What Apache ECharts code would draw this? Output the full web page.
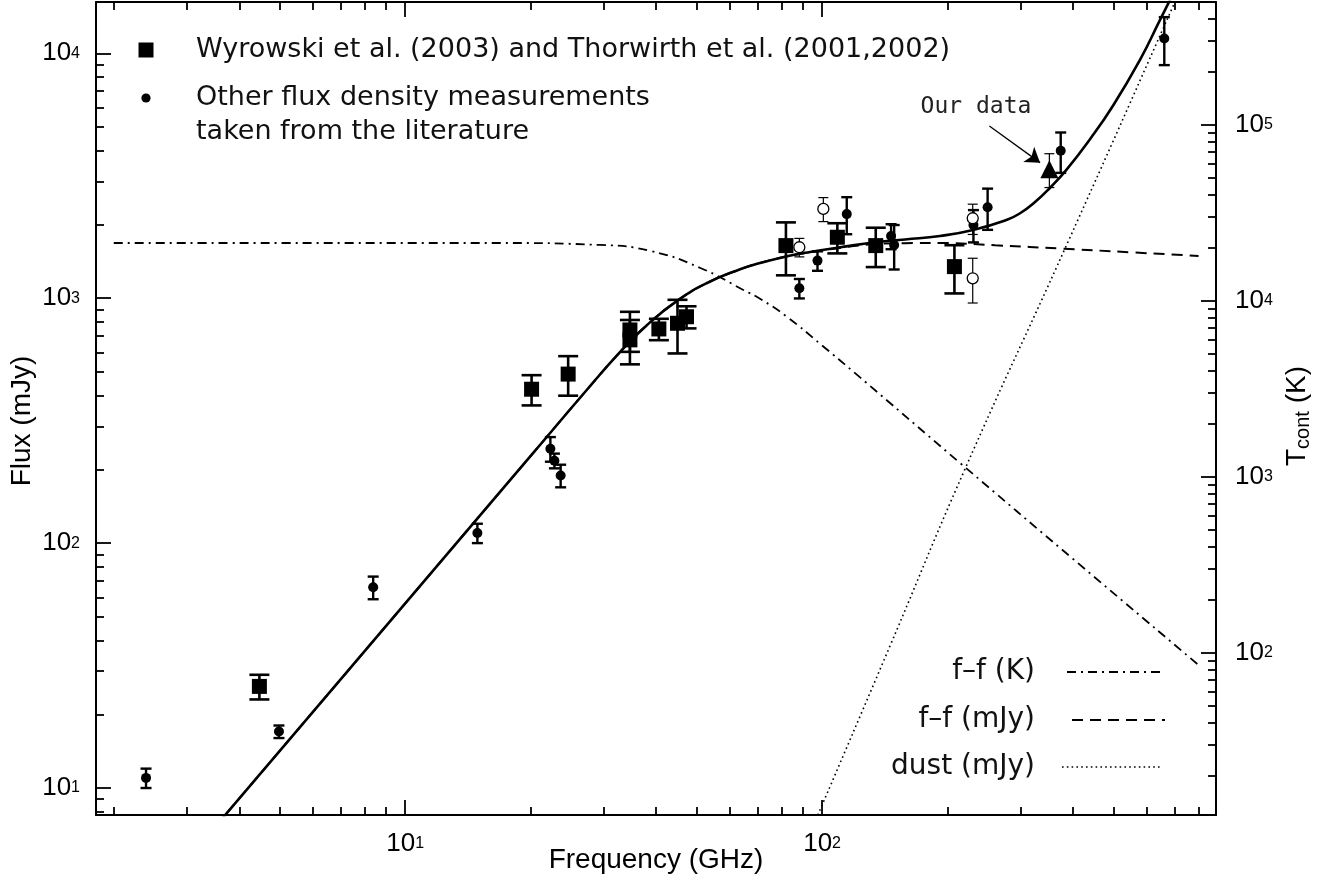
<!DOCTYPE html>
<html>
<head>
<meta charset="utf-8">
<title>Continuum spectrum</title>
<script src="https://cdn.jsdelivr.net/npm/echarts@6/dist/echarts.min.js"></script>
<style>
  html, body { margin: 0; padding: 0; background: #fff; }
  #chart { width: 1344px; height: 881px; }
</style>
</head>
<body>
<div id="chart"></div>
<script>
// Frequencies in GHz, flux densities in mJy, brightness temperatures in K.
// Axis ranges (log axes drawn as linear axes over log10 values)
const freqRange = [1.813, 880.8];
const fluxRange = [7.76, 16200];
const tempRange = [11.96, 497700];

// Decade tick labels (exponents of ten)
const freqDecades = [1, 2];
const fluxDecades = [1, 2, 3, 4];
const tempDecades = [2, 3, 4, 5];

// Wyrowski et al. (2003) and Thorwirth et al. (2001, 2002)
const wyrFreq = [4.47, 20.1, 24.6, 34.6, 34.6, 40.6, 45.0, 47.3, 81.9, 108.8, 134.5, 207.7];
const wyrFlux = [26, 425, 490, 742, 676, 749, 790, 840, 1640, 1774, 1640, 1346];
const wyrErr  = [3, 60, 90, 138, 139, 75, 195, 87, 400, 250, 300, 300];

// Other flux density measurements from the literature (filled circles)
const litFreq = [2.39, 4.98, 8.38, 14.9, 22.3, 22.8, 23.6, 88.2, 97.5, 114.6, 146.4, 148.9, 230.7, 249.5, 373.6, 662];
const litFlux = [11, 17, 66, 110, 243, 217, 189, 1098, 1424, 2205, 1795, 1650, 1990, 2352, 4000, 11500];
const litErr  = [1, 1, 7, 10, 28, 15, 20, 100, 130, 380, 210, 340, 300, 450, 750, 2550];

// Open circles
const openFreq = [88.2, 100.7, 229.8, 229.8];
const openFlux = [1615, 2315, 1206, 2121];
const openErr  = [140, 260, 250, 300];

// Our data
const ourFreq = [350.9];
const ourFlux = [3361];
const ourErr  = [530];

// Total model (free-free + dust), mJy
const modelFreq = [3.5, 8.37, 12.1, 20, 27, 32.79, 38.05, 45.23, 52.99, 63.6, 71.0, 81.8, 93.6, 110.5, 134.5, 158.1, 191.9, 230.2, 277.7, 298.5, 324.2, 352.2, 386.8, 439.2, 498.6, 578.8, 646.6, 722.1];
const modelFlux = [6.94, 39.7, 83.1, 227, 414, 604, 778, 984, 1154, 1313, 1393, 1479, 1545, 1614, 1693, 1738, 1796, 1900, 2091, 2223, 2470, 2825, 3368, 4461, 6107, 9400, 13690, 19940];

// Free-free component, mJy
const ffFreq = [3.5, 8.37, 12.1, 20, 27, 32.79, 38.05, 45.23, 52.99, 63.6, 71.0, 81.8, 93.6, 110.5, 134.5, 158.1, 191.9, 260, 380, 550, 800];
const ffFlux = [6.94, 39.7, 83.1, 227, 414, 604, 778, 984, 1154, 1313, 1393, 1479, 1540, 1605, 1664, 1678, 1680, 1645, 1592, 1540, 1488];

// Free-free component as brightness temperature, K
const ffKFreq = [2, 16.9, 29.35, 38.74, 51.07, 64.76, 71.13, 82.3, 100, 120, 214.3, 400, 800];
const ffKTemp = [21270, 21270, 20730, 19160, 15340, 11500, 10220, 8111, 5566, 3873, 1196, 340.7, 85.1];

// Dust component, mJy
const dustFreq = [97.7, 145.5, 220, 386, 702, 760];
const dustFlux = [7.76, 38, 200, 1650, 16200, 22080];

// Arrow pointing at our data point: [GHz, mJy]
const arrowFrom = [251.9, 5047];
const arrowTo = [333.3, 3578];

const lg = Math.log10;
const black = '#000';
const sansFont = '"Liberation Sans", Arial, Helvetica, sans-serif';
const wideFont = '"DejaVu Sans", Verdana, sans-serif';

const xExt = [lg(freqRange[0]), lg(freqRange[1])];
const fluxExt = [lg(fluxRange[0]), lg(fluxRange[1])];
const tempExt = [lg(tempRange[0]), lg(tempRange[1])];

function pairs(xs, ys) {
  return xs.map((x, i) => [lg(x), lg(ys[i])]);
}

// tick positions at 2..9 x 10^n inside an extent given in log10 units
function minorLogs(ext) {
  const out = [];
  for (let d = Math.floor(ext[0]); d <= Math.ceil(ext[1]); d++) {
    for (let m = 2; m <= 9; m++) {
      const v = d + Math.log10(m);
      if (v >= ext[0] && v <= ext[1]) out.push(v);
    }
  }
  return out;
}

const powerRich = {
  b: { fontSize: 26, fontFamily: sansFont, color: black, lineHeight: 26, padding: [6, 0, 5, 0], verticalAlign: 'bottom' },
  s: { fontSize: 16, fontFamily: sansFont, color: black, lineHeight: 16, verticalAlign: 'top' }
};

function powerLabel(decades, margin, padding) {
  return {
    show: true,
    customValues: decades,
    margin: margin,
    padding: padding,
    fontSize: 26,
    fontFamily: sansFont,
    color: black,
    formatter: v => '{b|10}{s|' + Math.round(v) + '}',
    rich: powerRich
  };
}

function frameAxis(position, ext, ticks, len, showLine, label) {
  return {
    type: 'value',
    position: position,
    min: ext[0],
    max: ext[1],
    axisLine: { show: showLine, onZero: false, lineStyle: { color: black, width: 2 } },
    axisTick: { show: true, inside: true, length: len, customValues: ticks, lineStyle: { color: black, width: 1.8 } },
    axisLabel: label || { show: false },
    splitLine: { show: false },
    minorTick: { show: false },
    minorSplitLine: { show: false },
    axisPointer: { show: false }
  };
}

function errorBars(freq, flux, err, capWidth, lineWidth) {
  return {
    type: 'custom',
    xAxisIndex: 0,
    yAxisIndex: 0,
    clip: true,
    silent: true,
    z: 3,
    data: freq.map((f, i) => [lg(f), lg(flux[i] + err[i]), lg(flux[i] - err[i])]),
    encode: { x: 0, y: [1, 2] },
    renderItem: (params, api) => {
      const hi = api.coord([api.value(0), api.value(1)]);
      const lo = api.coord([api.value(0), api.value(2)]);
      const h = capWidth / 2;
      const style = { stroke: black, lineWidth: lineWidth, fill: null };
      return {
        type: 'group',
        children: [
          { type: 'line', shape: { x1: hi[0], y1: hi[1], x2: lo[0], y2: lo[1] }, style: style },
          { type: 'line', shape: { x1: hi[0] - h, y1: hi[1], x2: hi[0] + h, y2: hi[1] }, style: style },
          { type: 'line', shape: { x1: lo[0] - h, y1: lo[1], x2: lo[0] + h, y2: lo[1] }, style: style }
        ]
      };
    }
  };
}

function curve(freq, vals, yIndex, width, dash, z) {
  return {
    type: 'line',
    xAxisIndex: 0,
    yAxisIndex: yIndex,
    data: pairs(freq, vals),
    symbol: 'none',
    showSymbol: false,
    smooth: 0.5,
    clip: true,
    silent: true,
    z: z,
    lineStyle: { color: black, width: width, type: dash }
  };
}

function markers(freq, flux, symbol, size, itemStyle) {
  return {
    type: 'scatter', xAxisIndex: 0, yAxisIndex: 0, z: 4, silent: true,
    data: pairs(freq, flux), symbol: symbol, symbolSize: size,
    itemStyle: Object.assign({ opacity: 1 }, itemStyle)
  };
}

const chart = echarts.init(document.getElementById('chart'), null, { renderer: 'canvas' });

const ourSeries = markers(ourFreq, ourFlux, 'triangle', 18, { color: black });
ourSeries.markLine = {
  silent: true,
  symbol: ['none', 'arrow'],
  symbolSize: 14,
  label: { show: false },
  lineStyle: { color: black, width: 1.3, type: 'solid' },
  data: [[
    { coord: [lg(arrowFrom[0]), lg(arrowFrom[1])] },
    { coord: [lg(arrowTo[0]), lg(arrowTo[1])] }
  ]]
};

const option = {
  animation: false,
  backgroundColor: '#fff',
  grid: { left: 96, right: 128, top: 2, bottom: 66, containLabel: false, outerBoundsMode: 'none' },
  xAxis: [
    frameAxis('bottom', xExt, freqDecades, 15, true, powerLabel(freqDecades, 21, 0)),
    frameAxis('top', xExt, freqDecades, 15, true),
    frameAxis('bottom', xExt, minorLogs(xExt), 8, false),
    frameAxis('top', xExt, minorLogs(xExt), 8, false)
  ],
  yAxis: [
    frameAxis('left', fluxExt, fluxDecades, 15, true, powerLabel(fluxDecades, 16, [10, 0, 0, 0])),
    frameAxis('right', tempExt, tempDecades, 15, true, powerLabel(tempDecades, 19, [10, 0, 0, 0])),
    frameAxis('left', fluxExt, minorLogs(fluxExt), 8, false),
    frameAxis('right', tempExt, minorLogs(tempExt), 8, false)
  ],
  series: [
    curve(ffFreq, ffFlux, 0, 2, [11, 7], 1),
    curve(dustFreq, dustFlux, 0, 1.6, [1.6, 3.2], 1),
    curve(ffKFreq, ffKTemp, 1, 1.8, [9, 5, 2, 5], 1),
    curve(modelFreq, modelFlux, 0, 2.6, 'solid', 2),
    errorBars(wyrFreq, wyrFlux, wyrErr, 20, 2.6),
    errorBars(litFreq, litFlux, litErr, 11, 2.4),
    errorBars(openFreq, openFlux, openErr, 10, 1.2),
    errorBars(ourFreq, ourFlux, ourErr, 10, 1.2),
    markers(wyrFreq, wyrFlux, 'rect', 15, { color: black }),
    markers(litFreq, litFlux, 'circle', 10, { color: black }),
    markers(openFreq, openFlux, 'circle', 11, { color: '#fff', borderColor: black, borderWidth: 1.3 }),
    ourSeries
  ],
  graphic: [
    // axis titles
    {
      type: 'text', x: 656, y: 860, silent: true,
      style: { text: 'Frequency (GHz)', fontSize: 28, fontFamily: sansFont, fill: black, align: 'center', verticalAlign: 'middle' }
    },
    {
      type: 'text', x: 22, y: 421, rotation: Math.PI / 2, silent: true,
      style: { text: 'Flux (mJy)', fontSize: 28, fontFamily: sansFont, fill: black, align: 'center', verticalAlign: 'middle' }
    },
    {
      type: 'text', x: 1298, y: 416, rotation: Math.PI / 2, silent: true,
      style: {
        text: '{t|T}{sub|cont}{t| (K)}',
        align: 'center', verticalAlign: 'middle',
        rich: {
          t: { fontSize: 28, fontFamily: sansFont, fill: black, lineHeight: 30, padding: [0, 0, 7, 0], verticalAlign: 'top' },
          sub: { fontSize: 20, fontFamily: sansFont, fill: black, lineHeight: 20, verticalAlign: 'bottom' }
        }
      }
    },
    // symbol key, upper left
    { type: 'rect', silent: true, shape: { x: 138.5, y: 42.5, width: 15, height: 15 }, style: { fill: black } },
    { type: 'circle', silent: true, shape: { cx: 146, cy: 98, r: 4.6 }, style: { fill: black } },
    {
      type: 'text', x: 196, y: 50, silent: true,
      style: { text: 'Wyrowski et al. (2003) and Thorwirth et al. (2001,2002)', fontSize: 27, fontFamily: wideFont, fill: '#111', align: 'left', verticalAlign: 'middle' }
    },
    {
      type: 'text', x: 196, y: 98, silent: true,
      style: { text: 'Other flux density measurements', fontSize: 27, fontFamily: wideFont, fill: '#111', align: 'left', verticalAlign: 'middle' }
    },
    {
      type: 'text', x: 196, y: 132, silent: true,
      style: { text: 'taken from the literature', fontSize: 27, fontFamily: wideFont, fill: '#111', align: 'left', verticalAlign: 'middle' }
    },
    // annotation
    {
      type: 'text', x: 976, y: 107, silent: true,
      style: { text: 'Our data', fontSize: 23, fontFamily: '"DejaVu Sans Mono", monospace', fill: '#222', align: 'center', verticalAlign: 'middle' }
    },
    // line-style key, lower right
    {
      type: 'text', x: 1035, y: 672, silent: true,
      style: { text: 'f–f (K)', fontSize: 28, fontFamily: wideFont, fill: '#111', align: 'right', verticalAlign: 'middle' }
    },
    {
      type: 'text', x: 1035, y: 720, silent: true,
      style: { text: 'f–f (mJy)', fontSize: 28, fontFamily: wideFont, fill: '#111', align: 'right', verticalAlign: 'middle' }
    },
    {
      type: 'text', x: 1035, y: 767, silent: true,
      style: { text: 'dust (mJy)', fontSize: 28, fontFamily: wideFont, fill: '#111', align: 'right', verticalAlign: 'middle' }
    },
    {
      type: 'line', silent: true, shape: { x1: 1067, y1: 672, x2: 1165, y2: 672 },
      style: { stroke: black, lineWidth: 1.8, lineDash: [9, 5, 2, 5] }
    },
    {
      type: 'line', silent: true, shape: { x1: 1072, y1: 720, x2: 1165, y2: 720 },
      style: { stroke: black, lineWidth: 2, lineDash: [11, 7] }
    },
    {
      type: 'line', silent: true, shape: { x1: 1062, y1: 767, x2: 1161, y2: 767 },
      style: { stroke: black, lineWidth: 1.6, lineDash: [1.6, 3.2] }
    }
  ]
};

chart.setOption(option);
</script>
</body>
</html>
